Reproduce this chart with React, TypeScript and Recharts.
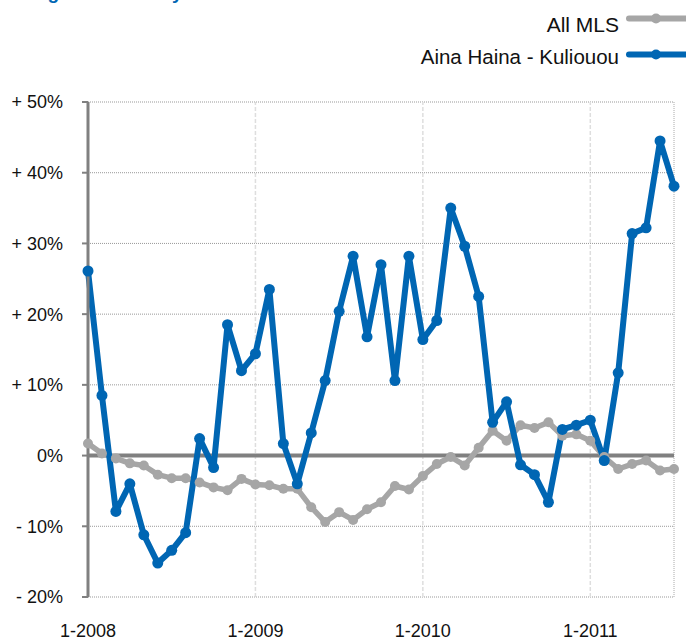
import {
  CartesianGrid,
  Line,
  LineChart,
  ReferenceLine,
  XAxis,
  YAxis,
} from "recharts";

const months = [
  "1-2008", "2-2008", "3-2008", "4-2008", "5-2008", "6-2008", "7-2008", "8-2008", "9-2008", "10-2008", "11-2008", "12-2008",
  "1-2009", "2-2009", "3-2009", "4-2009", "5-2009", "6-2009", "7-2009", "8-2009", "9-2009", "10-2009", "11-2009", "12-2009",
  "1-2010", "2-2010", "3-2010", "4-2010", "5-2010", "6-2010", "7-2010", "8-2010", "9-2010", "10-2010", "11-2010", "12-2010",
  "1-2011", "2-2011", "3-2011", "4-2011", "5-2011", "6-2011", "7-2011",
];

const allMls = [
  1.7, 0.3, -0.4, -1.1, -1.4, -2.7, -3.2, -3.2, -3.8, -4.5, -4.9, -3.3,
  -4.1, -4.2, -4.7, -4.7, -7.3, -9.4, -8.0, -9.1, -7.6, -6.6, -4.3, -4.8,
  -2.9, -1.2, -0.2, -1.4, 1.1, 3.5, 2.1, 4.3, 3.9, 4.7, 2.8, 3.0,
  2.1, -0.2, -1.9, -1.2, -0.7, -2.1, -1.9,
];

const ainaHaina = [
  26.1, 8.5, -7.9, -4.0, -11.2, -15.2, -13.4, -10.9, 2.4, -1.7, 18.5, 12.0,
  14.4, 23.5, 1.7, -4.0, 3.2, 10.6, 20.4, 28.2, 16.8, 27.0, 10.6, 28.2,
  16.4, 19.1, 35.0, 29.6, 22.5, 4.7, 7.6, -1.3, -2.7, -6.6, 3.7, 4.3,
  5.0, -0.7, 11.7, 31.4, 32.2, 44.5, 38.1,
];

const yearTicks = ["1-2008", "1-2009", "1-2010", "1-2011"];
const pctTicks = [-20, -10, 0, 10, 20, 30, 40, 50];

const BLUE = "#0066b3";
const GREY = "#a6a6a6";
const AXIS = "#808080";
const INK = "#111";
const FONT = "'Liberation Sans', Arial, Helvetica, sans-serif";

const data = months.map((month, i) => ({
  month,
  allMls: allMls[i],
  aina: ainaHaina[i],
}));

function fmtPct(v: number) {
  if (v > 0) return `+ ${v}%`;
  if (v < 0) return `- ${Math.abs(v)}%`;
  return "0%";
}

export default function App() {
  return (
    <div style={{ position: "absolute", left: 0, top: 0, width: 686, height: 641, fontFamily: FONT }}>
      {/* title is cropped off the top in the source, only descenders show */}
      <svg width={686} height={641} style={{ position: "absolute", left: 0, top: 0 }}>
        <text x={0} y={-1} fill={BLUE} fontSize={19} fontWeight="bold" fontFamily={FONT}>
          Change in Inventory
        </text>
        <text x={619} y={32} textAnchor="end" fill={INK} fontSize={21} fontFamily={FONT}>
          All MLS
        </text>
        <line x1={629} x2={686} y1={18.5} y2={18.5} stroke={GREY} strokeWidth={6} strokeLinecap="round" />
        <circle cx={656} cy={18.5} r={5} fill={GREY} />
        <text x={619} y={63.5} textAnchor="end" fill={INK} fontSize={20.5} fontFamily={FONT}>
          Aina Haina - Kuliouou
        </text>
        <line x1={629} x2={686} y1={54.5} y2={54.5} stroke={BLUE} strokeWidth={6} strokeLinecap="round" />
        <circle cx={656} cy={54.5} r={5} fill={BLUE} />
      </svg>

      <div style={{ position: "absolute", left: 0, top: 0 }}>
        <LineChart width={686} height={641} data={data} margin={{ top: 102, right: 12, bottom: 0, left: 0 }}>
          <CartesianGrid vertical={false} stroke="#999" strokeDasharray="1 1" />
          {yearTicks.slice(1).map((t) => (
            <ReferenceLine key={t} x={t} stroke="#dedede" strokeWidth={1.5} strokeDasharray="4 2" />
          ))}
          <ReferenceLine x="7-2011" stroke="#aaa" strokeDasharray="1 1" />
          <XAxis
            dataKey="month"
            ticks={yearTicks}
            interval={0}
            axisLine={false}
            tickLine={false}
            tickSize={0}
            tickMargin={27}
            height={44}
            tick={{ fill: INK, fontSize: 18, fontFamily: FONT }}
          />
          <YAxis
            domain={[-20, 50]}
            ticks={pctTicks}
            width={88}
            interval={0}
            tickFormatter={fmtPct}
            axisLine={{ stroke: AXIS, strokeWidth: 3 }}
            tickLine={{ stroke: AXIS, strokeWidth: 2 }}
            tickSize={6}
            tickMargin={19}
            tick={{ fill: INK, fontSize: 18, fontFamily: FONT }}
          />
          <ReferenceLine y={0} stroke={AXIS} strokeWidth={4} />
          <Line
            dataKey="allMls"
            stroke={GREY}
            strokeWidth={5.5}
            strokeLinejoin="round"
            dot={{ r: 5, fill: GREY, stroke: GREY, strokeWidth: 0 }}
            isAnimationActive={false}
          />
          <Line
            dataKey="aina"
            stroke={BLUE}
            strokeWidth={6}
            strokeLinejoin="round"
            dot={{ r: 5.5, fill: BLUE, stroke: BLUE, strokeWidth: 0 }}
            isAnimationActive={false}
          />
        </LineChart>
      </div>
    </div>
  );
}
